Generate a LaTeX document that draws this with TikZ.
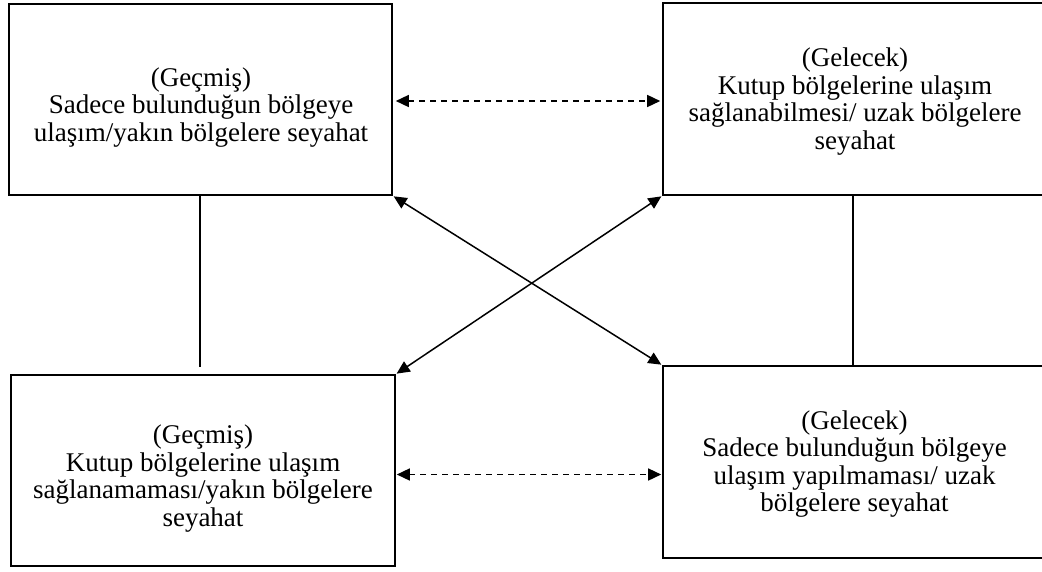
\documentclass[tikz,border=0pt]{standalone}
\usepackage{fontspec}
\setmainfont{Liberation Serif}
\usetikzlibrary{arrows.meta}

\begin{document}
\begin{tikzpicture}[x=1pt,y=-1pt,
  box/.style={draw, line width=1.6pt, rectangle, inner sep=0pt},
  txt/.style={align=center, font=\fontsize{27}{27.5}\selectfont, inner sep=0pt},
  link/.style={line width=1.8pt},
  biarrow/.style={line width=1.5pt, {Triangle[length=13pt,width=12pt]}-{Triangle[length=13pt,width=12pt]}},
  dasharrow/.style={biarrow, dash pattern=on 6pt off 5pt}]
\useasboundingbox (0,0) rectangle (1042,571);
\clip (0,0) rectangle (1042,571);

% the four boxes (the right-hand ones run past the page edge)
\node[box, minimum width=383pt, minimum height=191pt] (tl) at (200.5,99.5) {};
\node[box, minimum width=383pt, minimum height=192pt] (tr) at (854.5,99) {};
\node[box, minimum width=384pt, minimum height=191pt] (bl) at (203,470.5) {};
\node[box, minimum width=383pt, minimum height=192pt] (br) at (854.5,462) {};

% box texts
\node[txt] (tltext) at (201,107.5) {(Geçmiş)\\Sadece bulunduğun bölgeye\\ulaşım/yakın bölgelere seyahat};
\node[txt] (trtext) at (855,101.5) {(Gelecek)\\Kutup bölgelerine ulaşım\\sağlanabilmesi/ uzak bölgelere\\seyahat};
\node[txt] (bltext) at (203,478.5) {(Geçmiş)\\Kutup bölgelerine ulaşım\\sağlanamaması/yakın bölgelere\\seyahat};
\node[txt] (brtext) at (854.5,464) {(Gelecek)\\Sadece bulunduğun bölgeye\\ulaşım yapılmaması/ uzak\\bölgelere seyahat};

% vertical links
\draw[link, shorten >=7pt] ([xshift=-0.5pt]tl.south) -- ([xshift=-0.5pt]tl.south |- bl.north);
\draw[link] ([xshift=-1.5pt]tr.south) -- ([xshift=-1.5pt]tr.south |- br.north);

% dashed two-way arrows
\draw[dasharrow, shorten <=3pt, shorten >=2pt] ([yshift=-1.5pt]tl.east) -- ([yshift=-1.5pt]tl.east -| tr.west);
\draw[dasharrow, shorten <=1pt, shorten >=1pt] ([yshift=-4pt]bl.east) -- ([yshift=-4pt]bl.east -| br.west);

% crossing two-way arrows
\draw[biarrow, shorten <=1pt, shorten >=1pt] (tl.south east) -- (br.north west);
\draw[biarrow, shorten <=1pt, shorten >=1pt] (bl.north east) -- (tr.south west);
\end{tikzpicture}
\end{document}
